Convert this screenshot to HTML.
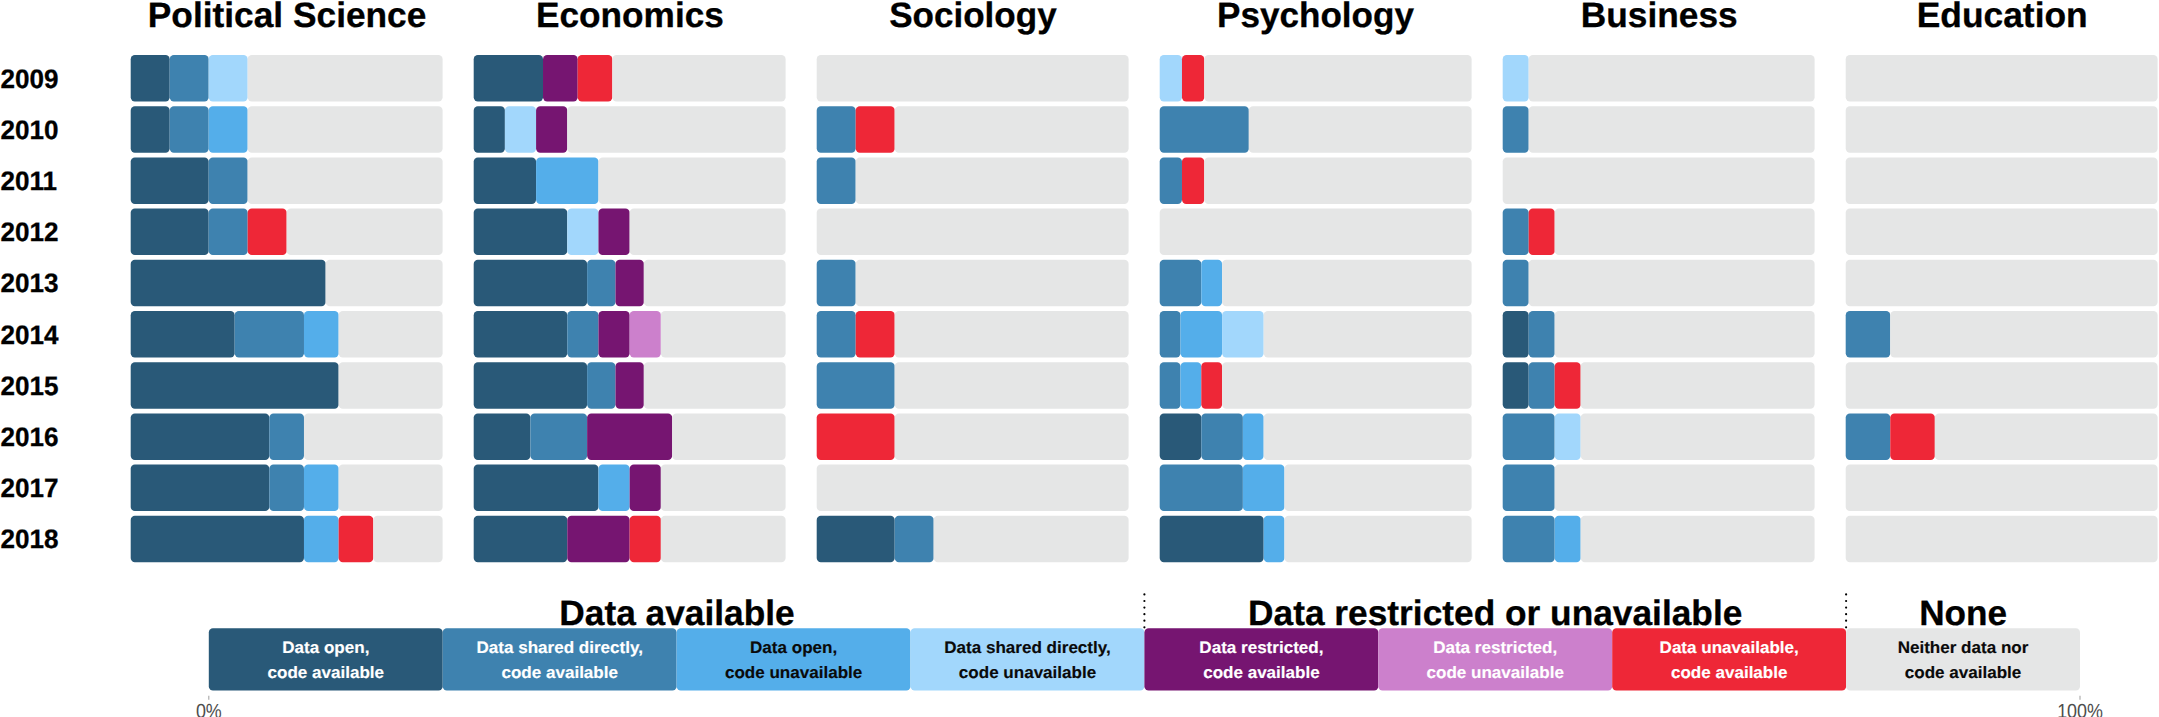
<!DOCTYPE html>
<html lang="en"><head><meta charset="utf-8"><title>Data and code availability by discipline</title>
<style>
html,body{margin:0;padding:0;background:#fff;}
body{width:2159px;height:717px;overflow:hidden;}
svg{display:block;}
text{font-family:"Liberation Sans",Arial,Helvetica,sans-serif;text-rendering:geometricPrecision;}
.t{font-weight:700;font-size:35.2px;fill:#000;text-anchor:middle;stroke:#000;stroke-width:.3px;}
.y{font-weight:700;font-size:26.6px;fill:#000;stroke:#000;stroke-width:.3px;}
.k{font-weight:700;font-size:16.6px;text-anchor:middle;}
.w{fill:#fff;stroke:#fff;stroke-width:.15px;}.b{fill:#0a0a0a;stroke:#0a0a0a;stroke-width:.15px;}
.a{font-size:17.9px;fill:#4d4d4d;text-anchor:middle;}
</style></head><body>
<svg width="2159" height="717" viewBox="0 0 2159 717">
<rect width="2159" height="717" fill="#fff"/>
<text class="t" transform="translate(287.1 26.75) scale(1.003 1)">Political Science</text>
<text class="t" transform="translate(629.9 26.75) scale(1.001 1)">Economics</text>
<text class="t" transform="translate(972.9 26.75) scale(0.996 1)">Sociology</text>
<text class="t" transform="translate(1315.5 26.75) scale(0.997 1)">Psychology</text>
<text class="t" transform="translate(1659.2 26.75) scale(1.003 1)">Business</text>
<text class="t" transform="translate(2002.2 26.75) scale(1.006 1)">Education</text>
<text class="y" transform="translate(0.4 88.0) scale(0.98 1)">2009</text>
<text class="y" transform="translate(0.4 139.1) scale(0.98 1)">2010</text>
<text class="y" transform="translate(0.4 190.2) scale(0.98 1)">2011</text>
<text class="y" transform="translate(0.4 241.3) scale(0.98 1)">2012</text>
<text class="y" transform="translate(0.4 292.4) scale(0.98 1)">2013</text>
<text class="y" transform="translate(0.4 343.6) scale(0.98 1)">2014</text>
<text class="y" transform="translate(0.4 394.7) scale(0.98 1)">2015</text>
<text class="y" transform="translate(0.4 445.8) scale(0.98 1)">2016</text>
<text class="y" transform="translate(0.4 496.9) scale(0.98 1)">2017</text>
<text class="y" transform="translate(0.4 548.0) scale(0.98 1)">2018</text>
<rect x="130.70" y="55.00" width="38.99" height="46.5" rx="4.2" fill="#295978"/>
<rect x="169.69" y="55.00" width="38.99" height="46.5" rx="4.2" fill="#3E82AF"/>
<rect x="208.67" y="55.00" width="38.99" height="46.5" rx="4.2" fill="#A2D7FC"/>
<rect x="247.66" y="55.00" width="194.94" height="46.5" rx="4.2" fill="#E5E6E6"/>
<rect x="130.70" y="106.20" width="38.99" height="46.5" rx="4.2" fill="#295978"/>
<rect x="169.69" y="106.20" width="38.99" height="46.5" rx="4.2" fill="#3E82AF"/>
<rect x="208.67" y="106.20" width="38.99" height="46.5" rx="4.2" fill="#54AEEA"/>
<rect x="247.66" y="106.20" width="194.94" height="46.5" rx="4.2" fill="#E5E6E6"/>
<rect x="130.70" y="157.40" width="77.97" height="46.5" rx="4.2" fill="#295978"/>
<rect x="208.67" y="157.40" width="38.99" height="46.5" rx="4.2" fill="#3E82AF"/>
<rect x="247.66" y="157.40" width="194.94" height="46.5" rx="4.2" fill="#E5E6E6"/>
<rect x="130.70" y="208.60" width="77.97" height="46.5" rx="4.2" fill="#295978"/>
<rect x="208.67" y="208.60" width="38.99" height="46.5" rx="4.2" fill="#3E82AF"/>
<rect x="247.66" y="208.60" width="38.99" height="46.5" rx="4.2" fill="#EE2737"/>
<rect x="286.65" y="208.60" width="155.95" height="46.5" rx="4.2" fill="#E5E6E6"/>
<rect x="130.70" y="259.80" width="194.94" height="46.5" rx="4.2" fill="#295978"/>
<rect x="325.64" y="259.80" width="116.96" height="46.5" rx="4.2" fill="#E5E6E6"/>
<rect x="130.70" y="311.00" width="103.97" height="46.5" rx="4.2" fill="#295978"/>
<rect x="234.67" y="311.00" width="69.31" height="46.5" rx="4.2" fill="#3E82AF"/>
<rect x="303.98" y="311.00" width="34.66" height="46.5" rx="4.2" fill="#54AEEA"/>
<rect x="338.63" y="311.00" width="103.97" height="46.5" rx="4.2" fill="#E5E6E6"/>
<rect x="130.70" y="362.20" width="207.93" height="46.5" rx="4.2" fill="#295978"/>
<rect x="338.63" y="362.20" width="103.97" height="46.5" rx="4.2" fill="#E5E6E6"/>
<rect x="130.70" y="413.40" width="138.62" height="46.5" rx="4.2" fill="#295978"/>
<rect x="269.32" y="413.40" width="34.66" height="46.5" rx="4.2" fill="#3E82AF"/>
<rect x="303.98" y="413.40" width="138.62" height="46.5" rx="4.2" fill="#E5E6E6"/>
<rect x="130.70" y="464.60" width="138.62" height="46.5" rx="4.2" fill="#295978"/>
<rect x="269.32" y="464.60" width="34.66" height="46.5" rx="4.2" fill="#3E82AF"/>
<rect x="303.98" y="464.60" width="34.66" height="46.5" rx="4.2" fill="#54AEEA"/>
<rect x="338.63" y="464.60" width="103.97" height="46.5" rx="4.2" fill="#E5E6E6"/>
<rect x="130.70" y="515.80" width="173.28" height="46.5" rx="4.2" fill="#295978"/>
<rect x="303.98" y="515.80" width="34.66" height="46.5" rx="4.2" fill="#54AEEA"/>
<rect x="338.63" y="515.80" width="34.66" height="46.5" rx="4.2" fill="#EE2737"/>
<rect x="373.29" y="515.80" width="69.31" height="46.5" rx="4.2" fill="#E5E6E6"/>
<rect x="473.70" y="55.00" width="69.31" height="46.5" rx="4.2" fill="#295978"/>
<rect x="543.01" y="55.00" width="34.66" height="46.5" rx="4.2" fill="#761571"/>
<rect x="577.67" y="55.00" width="34.66" height="46.5" rx="4.2" fill="#EE2737"/>
<rect x="612.32" y="55.00" width="173.28" height="46.5" rx="4.2" fill="#E5E6E6"/>
<rect x="473.70" y="106.20" width="31.19" height="46.5" rx="4.2" fill="#295978"/>
<rect x="504.89" y="106.20" width="31.19" height="46.5" rx="4.2" fill="#A2D7FC"/>
<rect x="536.08" y="106.20" width="31.19" height="46.5" rx="4.2" fill="#761571"/>
<rect x="567.27" y="106.20" width="218.33" height="46.5" rx="4.2" fill="#E5E6E6"/>
<rect x="473.70" y="157.40" width="62.38" height="46.5" rx="4.2" fill="#295978"/>
<rect x="536.08" y="157.40" width="62.38" height="46.5" rx="4.2" fill="#54AEEA"/>
<rect x="598.46" y="157.40" width="187.14" height="46.5" rx="4.2" fill="#E5E6E6"/>
<rect x="473.70" y="208.60" width="93.57" height="46.5" rx="4.2" fill="#295978"/>
<rect x="567.27" y="208.60" width="31.19" height="46.5" rx="4.2" fill="#A2D7FC"/>
<rect x="598.46" y="208.60" width="31.19" height="46.5" rx="4.2" fill="#761571"/>
<rect x="629.65" y="208.60" width="155.95" height="46.5" rx="4.2" fill="#E5E6E6"/>
<rect x="473.70" y="259.80" width="113.42" height="46.5" rx="4.2" fill="#295978"/>
<rect x="587.12" y="259.80" width="28.35" height="46.5" rx="4.2" fill="#3E82AF"/>
<rect x="615.47" y="259.80" width="28.35" height="46.5" rx="4.2" fill="#761571"/>
<rect x="643.83" y="259.80" width="141.77" height="46.5" rx="4.2" fill="#E5E6E6"/>
<rect x="473.70" y="311.00" width="93.57" height="46.5" rx="4.2" fill="#295978"/>
<rect x="567.27" y="311.00" width="31.19" height="46.5" rx="4.2" fill="#3E82AF"/>
<rect x="598.46" y="311.00" width="31.19" height="46.5" rx="4.2" fill="#761571"/>
<rect x="629.65" y="311.00" width="31.19" height="46.5" rx="4.2" fill="#CC80CC"/>
<rect x="660.84" y="311.00" width="124.76" height="46.5" rx="4.2" fill="#E5E6E6"/>
<rect x="473.70" y="362.20" width="113.42" height="46.5" rx="4.2" fill="#295978"/>
<rect x="587.12" y="362.20" width="28.35" height="46.5" rx="4.2" fill="#3E82AF"/>
<rect x="615.47" y="362.20" width="28.35" height="46.5" rx="4.2" fill="#761571"/>
<rect x="643.83" y="362.20" width="141.77" height="46.5" rx="4.2" fill="#E5E6E6"/>
<rect x="473.70" y="413.40" width="56.71" height="46.5" rx="4.2" fill="#295978"/>
<rect x="530.41" y="413.40" width="56.71" height="46.5" rx="4.2" fill="#3E82AF"/>
<rect x="587.12" y="413.40" width="85.06" height="46.5" rx="4.2" fill="#761571"/>
<rect x="672.18" y="413.40" width="113.42" height="46.5" rx="4.2" fill="#E5E6E6"/>
<rect x="473.70" y="464.60" width="124.76" height="46.5" rx="4.2" fill="#295978"/>
<rect x="598.46" y="464.60" width="31.19" height="46.5" rx="4.2" fill="#54AEEA"/>
<rect x="629.65" y="464.60" width="31.19" height="46.5" rx="4.2" fill="#761571"/>
<rect x="660.84" y="464.60" width="124.76" height="46.5" rx="4.2" fill="#E5E6E6"/>
<rect x="473.70" y="515.80" width="93.57" height="46.5" rx="4.2" fill="#295978"/>
<rect x="567.27" y="515.80" width="62.38" height="46.5" rx="4.2" fill="#761571"/>
<rect x="629.65" y="515.80" width="31.19" height="46.5" rx="4.2" fill="#EE2737"/>
<rect x="660.84" y="515.80" width="124.76" height="46.5" rx="4.2" fill="#E5E6E6"/>
<rect x="816.70" y="55.00" width="311.90" height="46.5" rx="4.2" fill="#E5E6E6"/>
<rect x="816.70" y="106.20" width="38.99" height="46.5" rx="4.2" fill="#3E82AF"/>
<rect x="855.69" y="106.20" width="38.99" height="46.5" rx="4.2" fill="#EE2737"/>
<rect x="894.68" y="106.20" width="233.92" height="46.5" rx="4.2" fill="#E5E6E6"/>
<rect x="816.70" y="157.40" width="38.99" height="46.5" rx="4.2" fill="#3E82AF"/>
<rect x="855.69" y="157.40" width="272.91" height="46.5" rx="4.2" fill="#E5E6E6"/>
<rect x="816.70" y="208.60" width="311.90" height="46.5" rx="4.2" fill="#E5E6E6"/>
<rect x="816.70" y="259.80" width="38.99" height="46.5" rx="4.2" fill="#3E82AF"/>
<rect x="855.69" y="259.80" width="272.91" height="46.5" rx="4.2" fill="#E5E6E6"/>
<rect x="816.70" y="311.00" width="38.99" height="46.5" rx="4.2" fill="#3E82AF"/>
<rect x="855.69" y="311.00" width="38.99" height="46.5" rx="4.2" fill="#EE2737"/>
<rect x="894.68" y="311.00" width="233.92" height="46.5" rx="4.2" fill="#E5E6E6"/>
<rect x="816.70" y="362.20" width="77.98" height="46.5" rx="4.2" fill="#3E82AF"/>
<rect x="894.68" y="362.20" width="233.92" height="46.5" rx="4.2" fill="#E5E6E6"/>
<rect x="816.70" y="413.40" width="77.98" height="46.5" rx="4.2" fill="#EE2737"/>
<rect x="894.68" y="413.40" width="233.92" height="46.5" rx="4.2" fill="#E5E6E6"/>
<rect x="816.70" y="464.60" width="311.90" height="46.5" rx="4.2" fill="#E5E6E6"/>
<rect x="816.70" y="515.80" width="77.98" height="46.5" rx="4.2" fill="#295978"/>
<rect x="894.68" y="515.80" width="38.99" height="46.5" rx="4.2" fill="#3E82AF"/>
<rect x="933.66" y="515.80" width="194.94" height="46.5" rx="4.2" fill="#E5E6E6"/>
<rect x="1159.70" y="55.00" width="22.28" height="46.5" rx="4.2" fill="#A2D7FC"/>
<rect x="1181.98" y="55.00" width="22.28" height="46.5" rx="4.2" fill="#EE2737"/>
<rect x="1204.26" y="55.00" width="267.34" height="46.5" rx="4.2" fill="#E5E6E6"/>
<rect x="1159.70" y="106.20" width="89.11" height="46.5" rx="4.2" fill="#3E82AF"/>
<rect x="1248.81" y="106.20" width="222.79" height="46.5" rx="4.2" fill="#E5E6E6"/>
<rect x="1159.70" y="157.40" width="22.28" height="46.5" rx="4.2" fill="#3E82AF"/>
<rect x="1181.98" y="157.40" width="22.28" height="46.5" rx="4.2" fill="#EE2737"/>
<rect x="1204.26" y="157.40" width="267.34" height="46.5" rx="4.2" fill="#E5E6E6"/>
<rect x="1159.70" y="208.60" width="311.90" height="46.5" rx="4.2" fill="#E5E6E6"/>
<rect x="1159.70" y="259.80" width="41.59" height="46.5" rx="4.2" fill="#3E82AF"/>
<rect x="1201.29" y="259.80" width="20.79" height="46.5" rx="4.2" fill="#54AEEA"/>
<rect x="1222.08" y="259.80" width="249.52" height="46.5" rx="4.2" fill="#E5E6E6"/>
<rect x="1159.70" y="311.00" width="20.79" height="46.5" rx="4.2" fill="#3E82AF"/>
<rect x="1180.49" y="311.00" width="41.59" height="46.5" rx="4.2" fill="#54AEEA"/>
<rect x="1222.08" y="311.00" width="41.59" height="46.5" rx="4.2" fill="#A2D7FC"/>
<rect x="1263.67" y="311.00" width="207.93" height="46.5" rx="4.2" fill="#E5E6E6"/>
<rect x="1159.70" y="362.20" width="20.79" height="46.5" rx="4.2" fill="#3E82AF"/>
<rect x="1180.49" y="362.20" width="20.79" height="46.5" rx="4.2" fill="#54AEEA"/>
<rect x="1201.29" y="362.20" width="20.79" height="46.5" rx="4.2" fill="#EE2737"/>
<rect x="1222.08" y="362.20" width="249.52" height="46.5" rx="4.2" fill="#E5E6E6"/>
<rect x="1159.70" y="413.40" width="41.59" height="46.5" rx="4.2" fill="#295978"/>
<rect x="1201.29" y="413.40" width="41.59" height="46.5" rx="4.2" fill="#3E82AF"/>
<rect x="1242.87" y="413.40" width="20.79" height="46.5" rx="4.2" fill="#54AEEA"/>
<rect x="1263.67" y="413.40" width="207.93" height="46.5" rx="4.2" fill="#E5E6E6"/>
<rect x="1159.70" y="464.60" width="83.17" height="46.5" rx="4.2" fill="#3E82AF"/>
<rect x="1242.87" y="464.60" width="41.59" height="46.5" rx="4.2" fill="#54AEEA"/>
<rect x="1284.46" y="464.60" width="187.14" height="46.5" rx="4.2" fill="#E5E6E6"/>
<rect x="1159.70" y="515.80" width="103.97" height="46.5" rx="4.2" fill="#295978"/>
<rect x="1263.67" y="515.80" width="20.79" height="46.5" rx="4.2" fill="#54AEEA"/>
<rect x="1284.46" y="515.80" width="187.14" height="46.5" rx="4.2" fill="#E5E6E6"/>
<rect x="1502.70" y="55.00" width="25.99" height="46.5" rx="4.2" fill="#A2D7FC"/>
<rect x="1528.69" y="55.00" width="285.91" height="46.5" rx="4.2" fill="#E5E6E6"/>
<rect x="1502.70" y="106.20" width="25.99" height="46.5" rx="4.2" fill="#3E82AF"/>
<rect x="1528.69" y="106.20" width="285.91" height="46.5" rx="4.2" fill="#E5E6E6"/>
<rect x="1502.70" y="157.40" width="311.90" height="46.5" rx="4.2" fill="#E5E6E6"/>
<rect x="1502.70" y="208.60" width="25.99" height="46.5" rx="4.2" fill="#3E82AF"/>
<rect x="1528.69" y="208.60" width="25.99" height="46.5" rx="4.2" fill="#EE2737"/>
<rect x="1554.68" y="208.60" width="259.92" height="46.5" rx="4.2" fill="#E5E6E6"/>
<rect x="1502.70" y="259.80" width="25.99" height="46.5" rx="4.2" fill="#3E82AF"/>
<rect x="1528.69" y="259.80" width="285.91" height="46.5" rx="4.2" fill="#E5E6E6"/>
<rect x="1502.70" y="311.00" width="25.99" height="46.5" rx="4.2" fill="#295978"/>
<rect x="1528.69" y="311.00" width="25.99" height="46.5" rx="4.2" fill="#3E82AF"/>
<rect x="1554.68" y="311.00" width="259.92" height="46.5" rx="4.2" fill="#E5E6E6"/>
<rect x="1502.70" y="362.20" width="25.99" height="46.5" rx="4.2" fill="#295978"/>
<rect x="1528.69" y="362.20" width="25.99" height="46.5" rx="4.2" fill="#3E82AF"/>
<rect x="1554.68" y="362.20" width="25.99" height="46.5" rx="4.2" fill="#EE2737"/>
<rect x="1580.67" y="362.20" width="233.92" height="46.5" rx="4.2" fill="#E5E6E6"/>
<rect x="1502.70" y="413.40" width="51.98" height="46.5" rx="4.2" fill="#3E82AF"/>
<rect x="1554.68" y="413.40" width="25.99" height="46.5" rx="4.2" fill="#A2D7FC"/>
<rect x="1580.67" y="413.40" width="233.92" height="46.5" rx="4.2" fill="#E5E6E6"/>
<rect x="1502.70" y="464.60" width="51.98" height="46.5" rx="4.2" fill="#3E82AF"/>
<rect x="1554.68" y="464.60" width="259.92" height="46.5" rx="4.2" fill="#E5E6E6"/>
<rect x="1502.70" y="515.80" width="51.98" height="46.5" rx="4.2" fill="#3E82AF"/>
<rect x="1554.68" y="515.80" width="25.99" height="46.5" rx="4.2" fill="#54AEEA"/>
<rect x="1580.67" y="515.80" width="233.92" height="46.5" rx="4.2" fill="#E5E6E6"/>
<rect x="1845.70" y="55.00" width="311.90" height="46.5" rx="4.2" fill="#E5E6E6"/>
<rect x="1845.70" y="106.20" width="311.90" height="46.5" rx="4.2" fill="#E5E6E6"/>
<rect x="1845.70" y="157.40" width="311.90" height="46.5" rx="4.2" fill="#E5E6E6"/>
<rect x="1845.70" y="208.60" width="311.90" height="46.5" rx="4.2" fill="#E5E6E6"/>
<rect x="1845.70" y="259.80" width="311.90" height="46.5" rx="4.2" fill="#E5E6E6"/>
<rect x="1845.70" y="311.00" width="44.56" height="46.5" rx="4.2" fill="#3E82AF"/>
<rect x="1890.26" y="311.00" width="267.34" height="46.5" rx="4.2" fill="#E5E6E6"/>
<rect x="1845.70" y="362.20" width="311.90" height="46.5" rx="4.2" fill="#E5E6E6"/>
<rect x="1845.70" y="413.40" width="44.56" height="46.5" rx="4.2" fill="#3E82AF"/>
<rect x="1890.26" y="413.40" width="44.56" height="46.5" rx="4.2" fill="#EE2737"/>
<rect x="1934.81" y="413.40" width="222.79" height="46.5" rx="4.2" fill="#E5E6E6"/>
<rect x="1845.70" y="464.60" width="311.90" height="46.5" rx="4.2" fill="#E5E6E6"/>
<rect x="1845.70" y="515.80" width="311.90" height="46.5" rx="4.2" fill="#E5E6E6"/>
<rect x="208.80" y="628.3" width="233.9" height="62.3" rx="4.2" fill="#295978"/>
<text class="k w" transform="translate(325.8 653.0) scale(1.027 1)">Data open,</text>
<text class="k w" transform="translate(325.8 677.7) scale(1.027 1)">code available</text>
<rect x="442.70" y="628.3" width="233.9" height="62.3" rx="4.2" fill="#3E82AF"/>
<text class="k w" transform="translate(559.7 653.0) scale(1.027 1)">Data shared directly,</text>
<text class="k w" transform="translate(559.7 677.7) scale(1.027 1)">code available</text>
<rect x="676.60" y="628.3" width="233.9" height="62.3" rx="4.2" fill="#54AEEA"/>
<text class="k b" transform="translate(793.6 653.0) scale(1.027 1)">Data open,</text>
<text class="k b" transform="translate(793.6 677.7) scale(1.027 1)">code unavailable</text>
<rect x="910.50" y="628.3" width="233.9" height="62.3" rx="4.2" fill="#A2D7FC"/>
<text class="k b" transform="translate(1027.5 653.0) scale(1.027 1)">Data shared directly,</text>
<text class="k b" transform="translate(1027.5 677.7) scale(1.027 1)">code unavailable</text>
<rect x="1144.40" y="628.3" width="233.9" height="62.3" rx="4.2" fill="#761571"/>
<text class="k w" transform="translate(1261.4 653.0) scale(1.027 1)">Data restricted,</text>
<text class="k w" transform="translate(1261.4 677.7) scale(1.027 1)">code available</text>
<rect x="1378.30" y="628.3" width="233.9" height="62.3" rx="4.2" fill="#CC80CC"/>
<text class="k w" transform="translate(1495.2 653.0) scale(1.027 1)">Data restricted,</text>
<text class="k w" transform="translate(1495.2 677.7) scale(1.027 1)">code unavailable</text>
<rect x="1612.20" y="628.3" width="233.9" height="62.3" rx="4.2" fill="#EE2737"/>
<text class="k w" transform="translate(1729.2 653.0) scale(1.027 1)">Data unavailable,</text>
<text class="k w" transform="translate(1729.2 677.7) scale(1.027 1)">code available</text>
<rect x="1846.10" y="628.3" width="233.9" height="62.3" rx="4.2" fill="#E5E6E6"/>
<text class="k b" transform="translate(1963.0 653.0) scale(1.027 1)">Neither data nor</text>
<text class="k b" transform="translate(1963.0 677.7) scale(1.027 1)">code available</text>
<text class="t" transform="translate(677.0 624.75) scale(1.003 1)">Data available</text>
<text class="t" transform="translate(1495.2 624.75) scale(1.003 1)">Data restricted or unavailable</text>
<text class="t" transform="translate(1963.1 624.95) scale(0.999 1)">None</text>
<line x1="1144.4" y1="594.4" x2="1144.4" y2="628" stroke="#000" stroke-width="2.2" stroke-linecap="round" stroke-dasharray="0 6.58"/>
<line x1="1846.1" y1="594.4" x2="1846.1" y2="628" stroke="#000" stroke-width="2.2" stroke-linecap="round" stroke-dasharray="0 6.58"/>
<line x1="208.8" y1="695.8" x2="208.8" y2="699.8" stroke="#a6a6a6" stroke-width="1.1"/>
<text class="a" transform="translate(208.8 717.8) scale(1 1.14)">0%</text>
<line x1="2080.0" y1="695.8" x2="2080.0" y2="699.8" stroke="#a6a6a6" stroke-width="1.1"/>
<text class="a" transform="translate(2080.0 717.8) scale(1 1.14)">100%</text>
</svg></body></html>
